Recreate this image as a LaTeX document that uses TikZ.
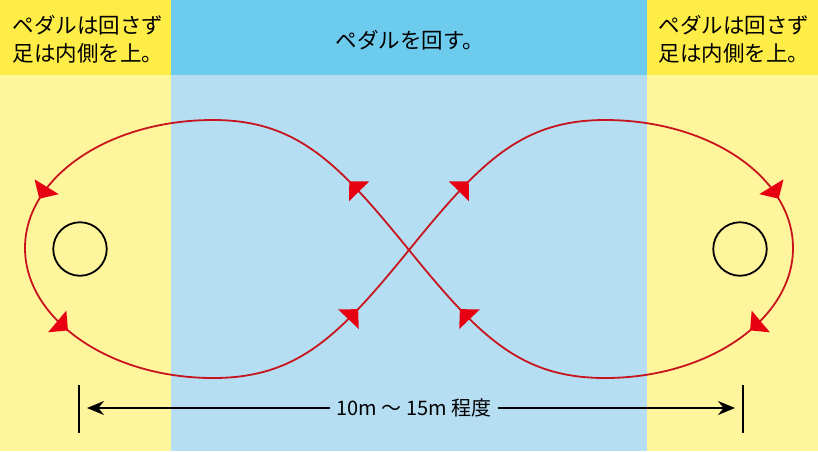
\documentclass[tikz,border=0pt]{standalone}
\usepackage{fontspec}
\setmainfont{Noto Sans CJK JP}
\usetikzlibrary{arrows.meta,decorations.markings}
\definecolor{hdyellow}{HTML}{FFED47}
\definecolor{bgyellow}{HTML}{FFF59C}
\definecolor{hdblue}{HTML}{6DCBEE}
\definecolor{bgblue}{HTML}{B5DEF2}
\definecolor{linered}{HTML}{C8141E}
\definecolor{arrowred}{HTML}{E60012}
\begin{document}
\begin{tikzpicture}[x=1pt,y=-1pt,
  headtext/.style={font=\fontsize{21.5}{28}\selectfont, align=center, inner sep=0pt},
  route/.style={draw=linered, line width=1.8pt},
  dirarrow/.style={postaction={decorate}, decoration={markings,
      mark=at position #1 with {\arrow{Triangle[length=14pt,width=28pt,color=arrowred]}}}},
  cone/.style={circle, draw=black, line width=1.8pt, minimum size=53.5pt, inner sep=0pt},
  dimline/.style={line width=1.6pt, black},
  dimarrow/.style={dimline, -{Stealth[length=17pt,width=14pt]}},
]
\useasboundingbox (0,0) rectangle (818,451);
% backgrounds
\fill[bgyellow] (0,0) rectangle (171,451);
\fill[bgblue] (171,0) rectangle (647,451);
\fill[bgyellow] (647,0) rectangle (818,451);
\fill[hdyellow] (0,0) rectangle (171,75);
\fill[hdblue] (171,0) rectangle (647,75);
\fill[hdyellow] (647,0) rectangle (818,75);
% header texts
\node[headtext] (hl) at (88,39) {ペダルは回さず\\足は内側を上。};
\node[headtext] (hc) at (410,40) {ペダルを回す。};
\node[headtext] (hr) at (734,39) {ペダルは回さず\\足は内側を上。};
% cones
\node[cone] (lc) at (80,249) {};
\node[cone] (rc) at (740,249) {};
% figure-eight route
\coordinate (C) at (409,250);
\coordinate (TL) at (213,120);
\coordinate (L) at (25,248);
\coordinate (BL) at (213,378);
\coordinate (TR) at (605,120);
\coordinate (R) at (793,248);
\coordinate (BR) at (605,378);
\path[route, dirarrow=91pt] (C) .. controls (339,164) and (298,120) .. (TL);
\path[route, dirarrow=-52pt] (TL) .. controls (109,120) and (25,177) .. (L);
\path[route, dirarrow=96pt] (L) .. controls (25,319) and (109,378) .. (BL);
\path[route, dirarrow=-78pt] (BL) .. controls (298,378) and (339,336) .. (C);
\path[route, dirarrow=91pt] (C) .. controls (479,164) and (520,120) .. (TR);
\path[route, dirarrow=-52pt] (TR) .. controls (709,120) and (793,177) .. (R);
\path[route, dirarrow=96pt] (R) .. controls (793,319) and (709,378) .. (BR);
\path[route, dirarrow=-78pt] (BR) .. controls (520,378) and (479,336) .. (C);
% dimension
\coordinate (lt1) at (79,385);
\coordinate (lt2) at (79,433);
\coordinate (rt1) at (743,385);
\coordinate (rt2) at (743,433);
\coordinate (la) at (87,408);
\coordinate (ra) at (735,408);
\draw[dimline] (lt1) -- (lt2);
\draw[dimline] (rt1) -- (rt2);
\node[font=\fontsize{20}{24}\selectfont, inner sep=6pt] (dim) at (414,408) {10m ～ 15m 程度};
\draw[dimarrow] (dim.west) -- (la);
\draw[dimarrow] (dim.east) -- (ra);
\end{tikzpicture}
\end{document}
